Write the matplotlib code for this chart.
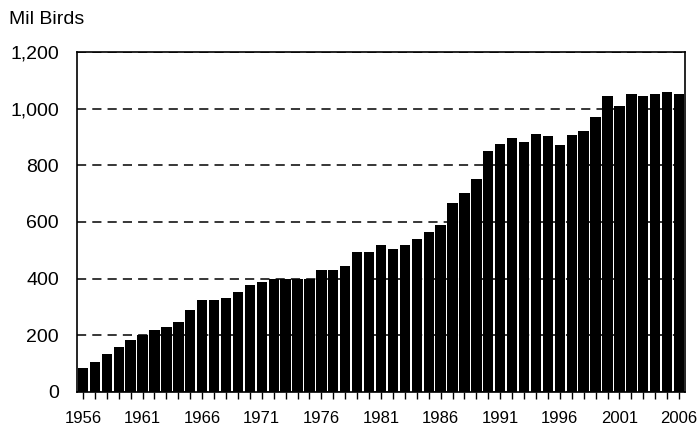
import matplotlib
matplotlib.use("Agg")
import matplotlib.pyplot as plt
import numpy as np

plt.rcParams['font.family'] = ['Liberation Sans', 'DejaVu Sans']

# Broiler production, million birds
years = list(range(1956, 2007))
birds = [86, 107, 135, 159, 182, 201, 218, 229, 246, 288,
         326, 326, 331, 353, 378, 387, 400, 400, 400, 398,
         432, 430, 446, 493, 495, 520, 503, 518, 539, 564,
         588, 668, 704, 753, 851, 877, 897, 883, 912, 902,
         873, 907, 922, 972, 1043, 1008, 1053, 1043, 1053, 1060,
         1053]
ytick_vals = [0, 200, 400, 600, 800, 1000, 1200]

fig = plt.figure(figsize=(6.99, 4.28), dpi=100)
ax = fig.add_axes([77/699, 36/428, 608/699, 340/428])

x = np.arange(len(years))
ax.bar(x, birds, width=0.87, color='black', zorder=2)

ax.set_xlim(-0.5, len(years) - 0.5)
ax.set_ylim(0, 1200)

# dashed gridlines behind the bars
ax.set_yticks(ytick_vals)
ax.set_yticklabels(['{:,}'.format(v) for v in ytick_vals], fontsize=14)
ax.yaxis.grid(True, linestyle=(0, (6, 4)), color='black', linewidth=1.1, zorder=0)
ax.set_axisbelow(True)
ax.tick_params(axis='y', length=0, pad=13)

ax.set_xticks(x)
ax.set_xticklabels([str(y) if (y - 1956) % 5 == 0 else '' for y in years], fontsize=12)
ax.tick_params(axis='x', length=5, width=1, direction='out', pad=9)

for s in ax.spines.values():
    s.set_linewidth(1.2)

fig.text(9/699, 1 - 19/428, "Mil Birds", fontsize=14, va='center', ha='left')

plt.savefig("out.png", dpi=100)
